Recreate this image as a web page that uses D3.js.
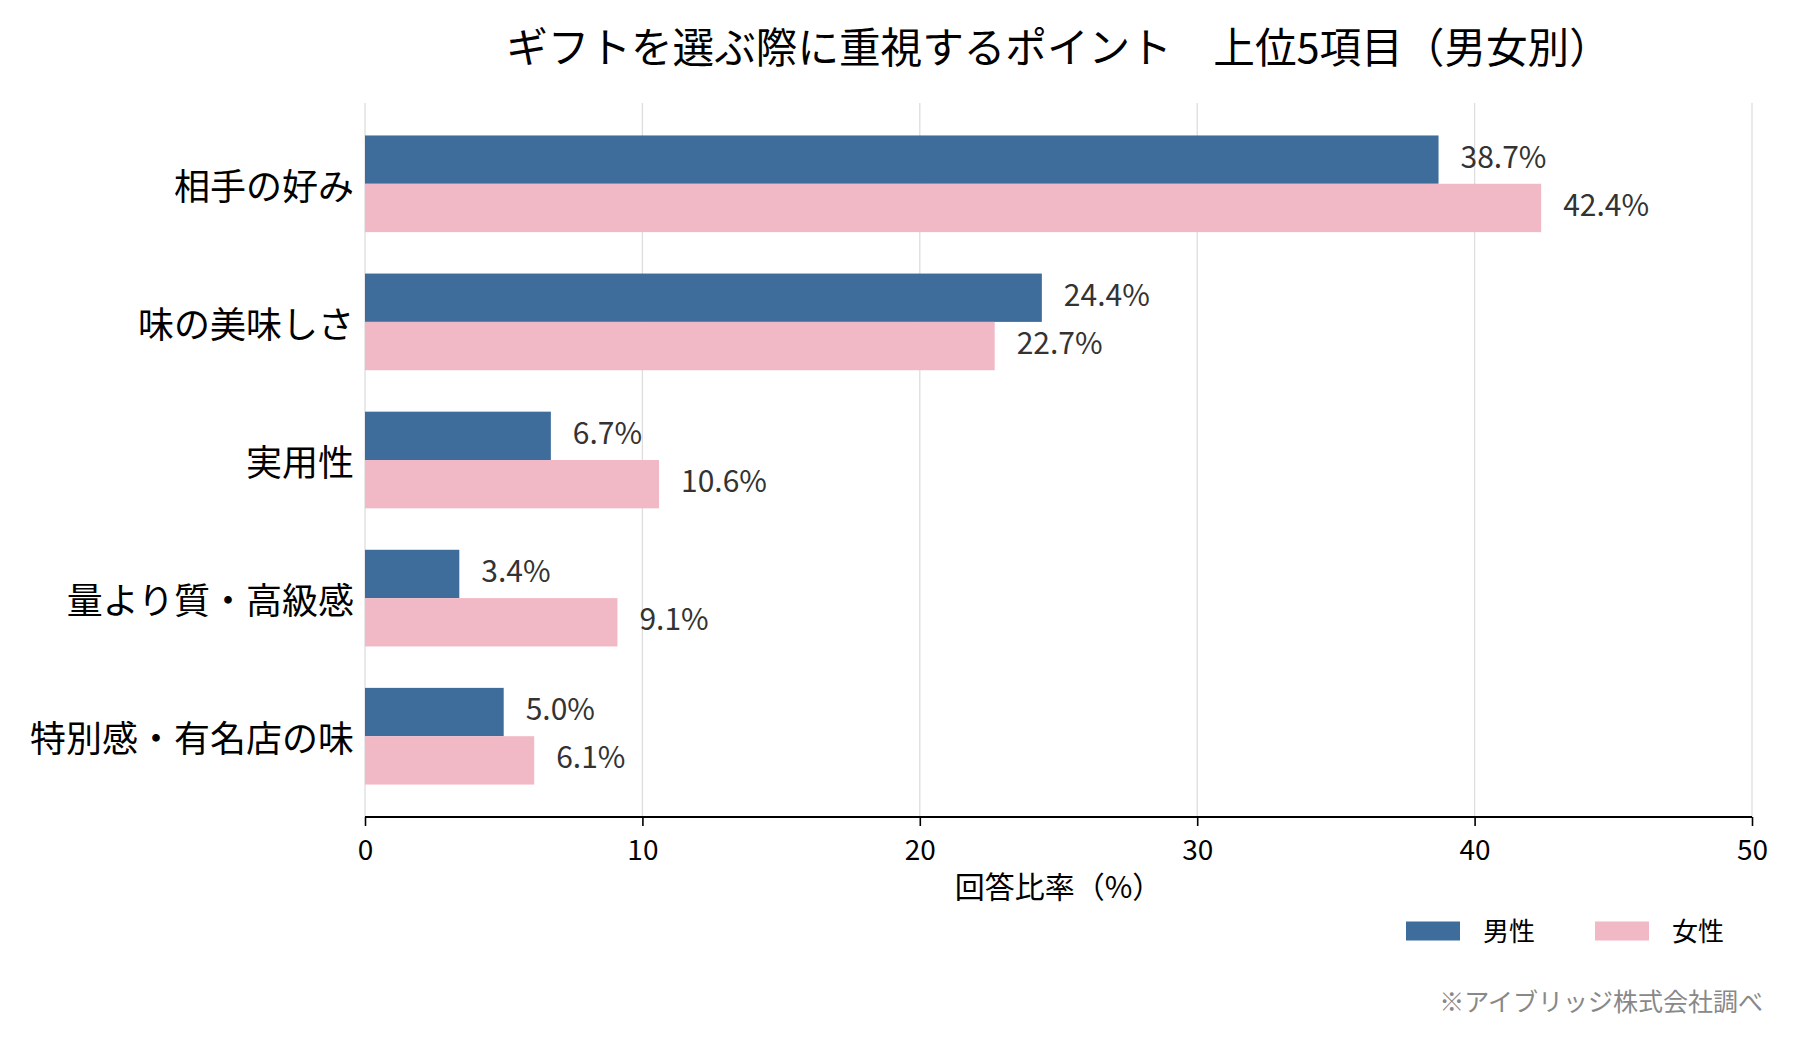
<!DOCTYPE html>
<html>
  <head>
    <meta charset="utf-8" />
    <title>ギフトを選ぶ際に重視するポイント</title>
    <script src="https://d3js.org/d3.v7.min.js"></script>
    <style>
      body {
        margin: 0;
        background: #fff;
      }
      text {
        font-family: "Noto Sans CJK JP", "Noto Sans", sans-serif;
      }
    </style>
  </head>
  <body>

    <svg id="chart"></svg>

    <script>

      var categories = ["相手の好み", "味の美味しさ", "実用性", "量より質・高級感", "特別感・有名店の味"];
      var maleValues = [38.7, 24.4, 6.7, 3.4, 5.0];
      var femaleValues = [42.4, 22.7, 10.6, 9.1, 6.1];
      var seriesNames = ["男性", "女性"];
      var xTicks = [0, 10, 20, 30, 40, 50];

      var width = 1800;
      var height = 1040;
      var margin = { top: 103, right: 48, bottom: 223, left: 365 };
      var colors = ["#3e6d9b", "#f1b8c5"];
      var barH = 0.35;

      var svg = d3.select("#chart")
        .attr("width", width)
        .attr("height", height);

      var x = d3.scaleLinear()
        .domain([0, 50])
        .range([margin.left, width - margin.right]);

      // matplotlib-style y limits with 5% margin
      var y = d3.scaleLinear()
        .domain([-0.35 - 0.235, categories.length - 1 + 0.35 + 0.235])
        .range([margin.top, height - margin.bottom]);

      // grid
      svg.append("g")
        .selectAll("line")
        .data(xTicks)
        .join("line")
        .attr("x1", function(d) { return x(d); })
        .attr("x2", function(d) { return x(d); })
        .attr("y1", y.range()[0])
        .attr("y2", y.range()[1])
        .attr("stroke", "#dddddd")
        .attr("stroke-width", 1.3);

      var series = [maleValues, femaleValues];

      series.forEach(function(values, s) {
        var offset = s === 0 ? -barH : 0;

        svg.append("g")
          .selectAll("rect")
          .data(values)
          .join("rect")
          .attr("x", x(0))
          .attr("y", function(d, i) { return y(i + offset); })
          .attr("width", function(d) { return x(d) - x(0); })
          .attr("height", y(barH) - y(0))
          .attr("fill", colors[s]);

        svg.append("g")
          .selectAll("text")
          .data(values)
          .join("text")
          .attr("x", function(d) { return x(d) + 22; })
          .attr("y", function(d, i) { return y(i + offset + barH / 2) + 8; })
          .attr("font-size", 30)
          .attr("fill", "#333333")
          .text(function(d) { return d.toFixed(1) + "%"; });
      });

      // category labels
      svg.append("g")
        .selectAll("text")
        .data(categories)
        .join("text")
        .attr("x", x(0) - 11)
        .attr("y", function(d, i) { return y(i); })
        .attr("text-anchor", "end")
        .attr("dominant-baseline", "central")
        .attr("font-size", 36)
        .attr("fill", "#000")
        .text(function(d) { return d; });

      // x axis
      var xAxis = d3.axisBottom(x)
        .tickValues(xTicks)
        .tickSize(9)
        .tickPadding(14);

      var gx = svg.append("g")
        .attr("transform", "translate(0," + y.range()[1] + ")")
        .call(xAxis);

      gx.select(".domain")
        .attr("stroke", "#000")
        .attr("stroke-width", 2)
        .attr("d", "M" + x(0) + ",0H" + x(50));
      gx.selectAll(".tick line")
        .attr("stroke", "#000")
        .attr("stroke-width", 1.6);
      gx.selectAll(".tick text")
        .attr("font-family", "Noto Sans CJK JP")
        .attr("font-size", 28)
        .attr("fill", "#000");

      // axis label
      svg.append("text")
        .attr("x", (x.range()[0] + x.range()[1]) / 2)
        .attr("y", 885)
        .attr("text-anchor", "middle")
        .attr("dominant-baseline", "central")
        .attr("font-size", 30)
        .attr("fill", "#000")
        .text("回答比率（%）");

      // title
      svg.append("text")
        .attr("x", (x.range()[0] + x.range()[1]) / 2)
        .attr("y", 45)
        .attr("text-anchor", "middle")
        .attr("dominant-baseline", "central")
        .attr("font-size", 41.6)
        .attr("fill", "#000")
        .text("ギフトを選ぶ際に重視するポイント　上位5項目（男女別）");

      // legend
      var legend = svg.append("g")
        .attr("transform", "translate(1406,931)");

      var items = legend.selectAll("g")
        .data(seriesNames)
        .join("g")
        .attr("transform", function(d, i) { return "translate(" + (i * 189) + ",0)"; });

      items.append("rect")
        .attr("x", 0)
        .attr("y", -9.5)
        .attr("width", 54)
        .attr("height", 19)
        .attr("fill", function(d, i) { return colors[i]; });

      items.append("text")
        .attr("x", 77)
        .attr("y", -2)
        .attr("dominant-baseline", "central")
        .attr("font-size", 26)
        .attr("fill", "#000")
        .text(function(d) { return d; });

      // source note
      svg.append("text")
        .attr("x", 1763)
        .attr("y", 1000)
        .attr("text-anchor", "end")
        .attr("dominant-baseline", "central")
        .attr("font-size", 25)
        .attr("fill", "#888888")
        .text("※アイブリッジ株式会社調べ");

    </script>
  </body>
</html>
